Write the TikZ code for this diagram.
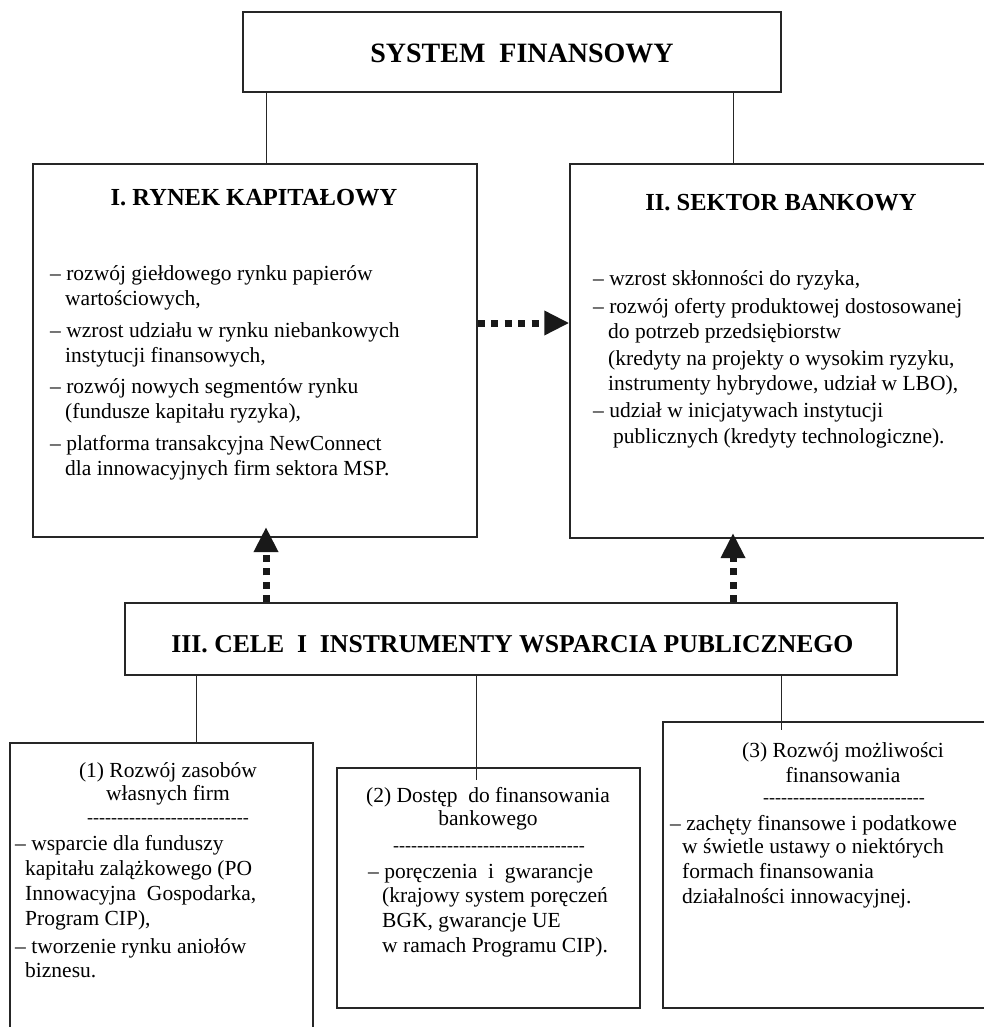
\documentclass[tikz,border=0pt]{standalone}
\usepackage{fontspec}
\setmainfont{Liberation Serif}
\usetikzlibrary{arrows.meta}
\newcommand\hyrow[1]{\foreach \k in {1,...,#1}{-\kern0pt}}
\tikzset{
  box/.style={draw=black!85, line width=1.3pt, inner sep=0pt, fill=none},
  conn/.style={draw=black!85, line width=0.9pt},
  dotarrow/.style={draw=black!90, line width=7pt, dash pattern=on 7pt off 6.5pt,
    -{Triangle[length=25pt,width=23pt]}},
  body/.style={font=\fontsize{21.5}{25}\selectfont, inner sep=0pt, anchor=base west, text=black},
  ctr/.style={body, anchor=base},
  hy/.style={font=\fontsize{18}{20}\selectfont, inner sep=0pt, anchor=base, text=black},
  ttl/.style={font=\bfseries\fontsize{24.5}{28}\selectfont, inner sep=0pt, anchor=base, text=black},
  bigttl/.style={font=\bfseries\fontsize{28}{30}\selectfont, inner sep=0pt, anchor=base, text=black}
}
\begin{document}
\begin{tikzpicture}[x=1pt,y=-1pt]
\useasboundingbox (0,0) rectangle (983,1027);
\fill[white] (0,0) rectangle (983,1027);

% boxes
\node[box, minimum width=538pt, minimum height=80pt] (sys) at (512,52) {};
\node[box, minimum width=444pt, minimum height=373pt] (cap) at (255,350.5) {};
\node[box, minimum width=425pt, minimum height=374pt] (bank) at (782.5,351) {};
\node[box, minimum width=772pt, minimum height=72pt] (pub) at (511,639) {};
\node[box, minimum width=303pt, minimum height=300pt] (b1) at (161.5,893) {};
\node[box, minimum width=303pt, minimum height=240pt] (b2) at (488.5,888) {};
\node[box, minimum width=360pt, minimum height=286pt] (b3) at (843,865) {};

% titles
\node[bigttl] (tsys) at (522,63) {SYSTEM\ \ FINANSOWY};
\node[ttl] (tcap) at (254,205) {I. RYNEK KAPITAŁOWY};
\node[ttl] (tbank) at (781,210) {II. SEKTOR BANKOWY};
\node[bigttl, font=\bfseries\fontsize{25.7}{28}\selectfont] (tpub) at (512.5,652) {III. CELE\ \ I\ \ INSTRUMENTY WSPARCIA PUBLICZNEGO};

% connectors
\coordinate (xa) at (266,0);
\coordinate (xb) at (733,0);
\coordinate (xc) at (196,0);
\coordinate (endB) at (476,780);
\coordinate (endC) at (781,730);
\coordinate (yh) at (0,323);
\coordinate (tipA) at (266,527);
\coordinate (tipB) at (733,533);
\draw[conn] (sys.south -| xa) -- (cap.north -| xa);
\draw[conn] (sys.south -| xb) -- (bank.north -| xb);
\draw[conn] (pub.south -| xc) -- (b1.north -| xc);
\draw[conn] (pub.south -| endB) -- (endB);
\draw[conn] (pub.south -| endC) -- (endC);

% dotted arrows
\draw[dotarrow] (cap.east |- yh) -- (bank.west |- yh);
\draw[dotarrow] (pub.north -| tipA) -- (tipA);
\draw[dotarrow] (pub.north -| tipB) -- (tipB);

% box I text
\node[body] (c1) at (50,280) {– rozwój giełdowego rynku papierów};
\node[body] (c2) at (65,305) {wartościowych,};
\node[body] (c3) at (50,337) {– wzrost udziału w rynku niebankowych};
\node[body] (c4) at (65,362) {instytucji finansowych,};
\node[body] (c5) at (50,393) {– rozwój nowych segmentów rynku};
\node[body] (c6) at (65,418) {(fundusze kapitału ryzyka),};
\node[body] (c7) at (50,450) {– platforma transakcyjna NewConnect};
\node[body] (c8) at (65,475) {dla innowacyjnych firm sektora MSP.};

% box II text
\node[body] (k1) at (593,285) {– wzrost skłonności do ryzyka,};
\node[body] (k2) at (593,313) {– rozwój oferty produktowej dostosowanej};
\node[body] (k3) at (608,338) {do potrzeb przedsiębiorstw};
\node[body] (k4) at (608,365) {(kredyty na projekty o wysokim ryzyku,};
\node[body] (k5) at (608,390) {instrumenty hybrydowe, udział w LBO),};
\node[body] (k6) at (593,417) {– udział w inicjatywach instytucji};
\node[body] (k7) at (613,443) {publicznych (kredyty technologiczne).};

% box (1) text
\node[ctr] (p1) at (168,777) {(1) Rozwój zasobów};
\node[ctr] (p2) at (168,800) {własnych firm};
\node[hy] (p3) at (168,823) {\hyrow{27}};
\node[body] (p4) at (15,850) {– wsparcie dla funduszy};
\node[body] (p5) at (25,875) {kapitału zalążkowego (PO};
\node[body] (p6) at (25,900) {Innowacyjna\ \ Gospodarka,};
\node[body] (p7) at (25,925) {Program CIP),};
\node[body] (p8) at (15,953) {– tworzenie rynku aniołów};
\node[body] (p9) at (25,977) {biznesu.};

% box (2) text
\node[ctr] (q1) at (488,802) {(2) Dostęp\ \ do finansowania};
\node[ctr] (q2) at (488,825) {bankowego};
\node[hy] (q3) at (489,851) {\hyrow{32}};
\node[body] (q4) at (368,878) {– poręczenia\ \ i\ \ gwarancje};
\node[body] (q5) at (382,902) {(krajowy system poręczeń};
\node[body] (q6) at (382,927) {BGK, gwarancje UE};
\node[body] (q7) at (382,952) {w ramach Programu CIP).};

% box (3) text
\node[ctr] (r1) at (843,757) {(3) Rozwój możliwości};
\node[ctr] (r2) at (843,782) {finansowania};
\node[hy] (r3) at (844,803) {\hyrow{27}};
\node[body] (r4) at (670,830) {– zachęty finansowe i podatkowe};
\node[body] (r5) at (682,853) {w świetle ustawy o niektórych};
\node[body] (r6) at (682,878) {formach finansowania};
\node[body] (r7) at (682,903) {działalności innowacyjnej.};
\end{tikzpicture}
\end{document}
